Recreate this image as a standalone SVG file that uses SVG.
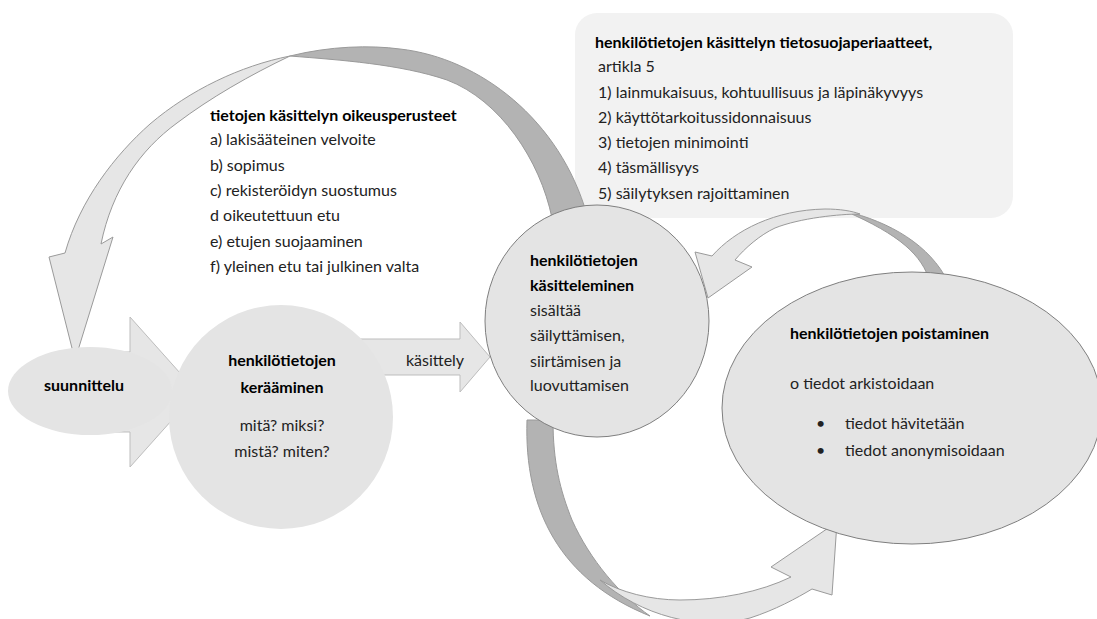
<svg xmlns="http://www.w3.org/2000/svg" width="1097" height="619" viewBox="0 0 1097 619">
<style>
text{font-family:Lato,"Open Sans","Liberation Sans",sans-serif;font-size:16px;fill:#222}
.b{font-weight:bold;fill:#000}
.mid{text-anchor:middle}
.node{fill:#e4e4e4}
.edge{fill:#e4e4e4;stroke:#7f7f7f;stroke-width:1}
.light{fill:#e6e6e6;stroke:#9a9a9a;stroke-width:1}
.dark{fill:#b3b3b3;stroke:#9a9a9a;stroke-width:1}
.block{fill:#e6e6e6;stroke:#bdbdbd;stroke-width:1}
</style>
<rect width="1097" height="619" fill="#fff"/>
<g id="principles">
<rect x="575" y="13" width="438" height="205" rx="22" fill="#f2f2f2"/>
<text class="b" x="595" y="48">henkilötietojen käsittelyn tietosuojaperiaatteet,</text>
<text x="598" y="72">artikla 5</text>
<text x="598" y="98">1) lainmukaisuus, kohtuullisuus ja läpinäkyvyys</text>
<text x="598" y="123">2) käyttötarkoitussidonnaisuus</text>
<text x="598" y="148">3) tietojen minimointi</text>
<text x="598" y="173">4) täsmällisyys</text>
<text x="598" y="199">5) säilytyksen rajoittaminen</text>
</g>
<g id="legal-bases">
<text class="b" x="210" y="121">tietojen käsittelyn oikeusperusteet</text>
<text x="210" y="145">a) lakisääteinen velvoite</text>
<text x="210" y="171">b) sopimus</text>
<text x="210" y="196">c) rekisteröidyn suostumus</text>
<text x="210" y="221">d oikeutettuun etu</text>
<text x="210" y="247">e) etujen suojaaminen</text>
<text x="210" y="272">f) yleinen etu tai julkinen valta</text>
</g>
<g id="connectors">
<path class="block" d="M360,339 L460,339 L460,322 L490,357 L460,392 L460,375 L360,375 Z"/>
<text class="mid" x="435" y="366">käsittely</text>
<path class="block" d="M80,352 L130,352 L130,317 L197,392 L130,467 L130,432 L80,432 Z"/>
<path class="dark" d="M290,56 C330,46 370,45 400,49 C480,58 560,120 587,215 L552,218 C540,160 500,100 447,80 C400,64 340,60 290,56 Z"/>
<path class="light" d="M290,56 C240,66 190,90 150,124 C115,155 80,200 65,253 L49,257 L75,360 L113,237 L101,244 C112,190 140,150 177,123 C210,98 250,75 290,56 Z"/>
<path class="dark" d="M845,211 C890,222 930,245 948,282 L930,282 C922,255 900,235 845,211 Z"/>
<path class="light" d="M712,256 C735,230 775,210 825,209 C840,209 852,211 860,214 C840,214 800,218 775,228 C760,235 745,248 735,260 L752,267 L708,298 L695,252 Z"/>
<path class="dark" d="M527,420 C524,510 560,580 650,616 C620,595 590,560 572,520 C560,490 553,462 553,420 Z"/>
<path class="light" d="M600,580 C640,615 700,632 750,618 C775,610 797,598 812,589 L832,595 L837,522 L771,567 L791,577 C760,592 720,600 680,600 C650,600 620,592 600,580 Z"/>
</g>
<g id="collection">
<circle class="node" cx="281" cy="417" r="112"/>
<text class="b mid" x="282" y="366">henkilötietojen</text>
<text class="b mid" x="282" y="393">kerääminen</text>
<text class="mid" x="282" y="431">mitä? miksi?</text>
<text class="mid" x="282" y="457">mistä? miten?</text>
</g>
<g id="planning">
<ellipse class="node" cx="90" cy="391" rx="82" ry="44"/>
<text class="b mid" x="84" y="391">suunnittelu</text>
</g>
<g id="processing">
<ellipse class="edge" cx="597" cy="321" rx="112" ry="116"/>
<text class="b" x="530" y="266">henkilötietojen</text>
<text class="b" x="530" y="291">käsitteleminen</text>
<text x="530" y="316">sisältää</text>
<text x="530" y="341">säilyttämisen,</text>
<text x="530" y="367">siirtämisen ja</text>
<text x="530" y="391">luovuttamisen</text>
</g>
<g id="deletion">
<ellipse class="edge" cx="912" cy="408" rx="190" ry="136"/>
<text class="b" x="790" y="339">henkilötietojen poistaminen</text>
<text x="790" y="389">o tiedot arkistoidaan</text>
<text x="816" y="429">•</text>
<text x="845" y="429">tiedot hävitetään</text>
<text x="816" y="456">•</text>
<text x="845" y="456">tiedot anonymisoidaan</text>
</g>
</svg>
